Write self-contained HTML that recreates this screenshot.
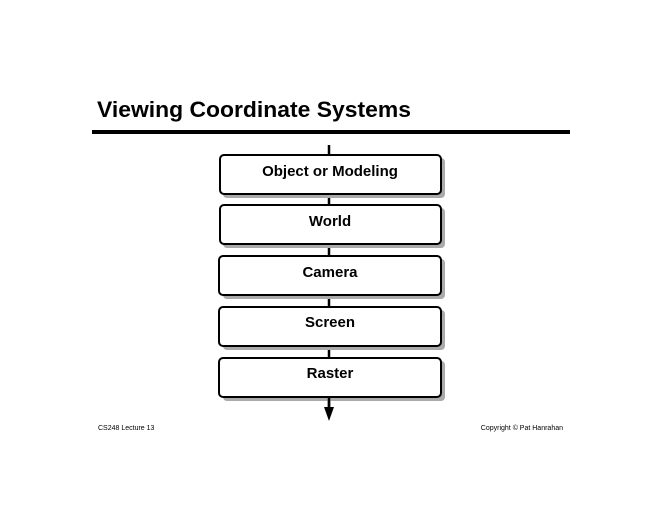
<!DOCTYPE html>
<html><head><meta charset="utf-8"><style>
html,body{margin:0;padding:0;background:#fff;width:660px;height:510px;overflow:hidden}
</style></head><body>
<svg width="660" height="510" xmlns="http://www.w3.org/2000/svg" font-family="Liberation Sans, sans-serif">
<text x="97" y="117" font-size="22" font-weight="bold" textLength="314" lengthAdjust="spacingAndGlyphs">Viewing Coordinate Systems</text>
<rect x="92" y="130" width="478" height="4" fill="#000"/>
<line x1="329" y1="145" x2="329" y2="410" stroke="#000" stroke-width="2.5"/>
<polygon points="324,407 334,407 329,421" fill="#000"/>
<g font-size="15" font-weight="bold" text-anchor="middle">
<rect x="223" y="158" width="222" height="40" rx="4" fill="#aaa"/>
<rect x="220" y="155" width="221" height="39" rx="4" fill="#fff" stroke="#000" stroke-width="2"/>
<text x="330" y="176">Object or Modeling</text>
<rect x="223" y="208" width="222" height="40" rx="4" fill="#aaa"/>
<rect x="220" y="205" width="221" height="39" rx="4" fill="#fff" stroke="#000" stroke-width="2"/>
<text x="330" y="226">World</text>
<rect x="223" y="259" width="222" height="40" rx="4" fill="#aaa"/>
<rect x="219" y="256" width="222" height="39" rx="4" fill="#fff" stroke="#000" stroke-width="2"/>
<text x="330" y="277">Camera</text>
<rect x="223" y="310" width="222" height="40" rx="4" fill="#aaa"/>
<rect x="219" y="307" width="222" height="39" rx="4" fill="#fff" stroke="#000" stroke-width="2"/>
<text x="330" y="327">Screen</text>
<rect x="223" y="361" width="222" height="40" rx="4" fill="#aaa"/>
<rect x="219" y="358" width="222" height="39" rx="4" fill="#fff" stroke="#000" stroke-width="2"/>
<text x="330" y="378">Raster</text>
</g>
<line x1="329" y1="397" x2="329" y2="410" stroke="#000" stroke-width="2.5"/>
<text x="98" y="430" font-size="7">CS248 Lecture 13</text>
<text x="563" y="430" font-size="7" text-anchor="end">Copyright © Pat Hanrahan</text>
</svg>
</body></html>
